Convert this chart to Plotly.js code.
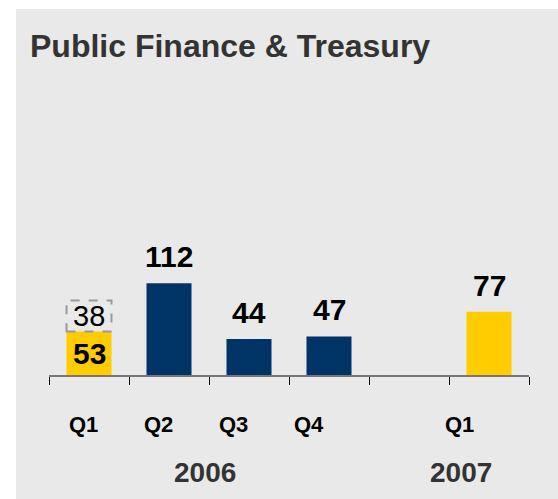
<!DOCTYPE html>
<html>
<head>
<meta charset="utf-8">
<script src="https://cdn.plot.ly/plotly-3.0.1.min.js"></script>
<style>
  html, body { margin: 0; padding: 0; background: #ffffff; }
  #chart { position: absolute; left: 16px; top: 9px; width: 542px; height: 490px; }
</style>
</head>
<body>
<div id="chart"></div>
<script>
// Data
const slots = ['Q1 2006', 'Q2 2006', 'Q3 2006', 'Q4 2006', 'gap', 'Q1 2007'];
const quarterLabels = ['Q1', 'Q2', 'Q3', 'Q4', '', 'Q1'];
const yearLabels = ['2006', '2007'];
const dealSlots = ['Q1 2006', 'Q2 2006', 'Q3 2006', 'Q4 2006', 'Q1 2007'];
const dealValues = [53, 112, 44, 47, 77];
const dealColors = ['#FFCC00', '#003366', '#003366', '#003366', '#FFCC00'];
const extraSlot = 'Q1 2006';
const extraValue = 38;

const gray = '#e9e9e9';
const barWidth = 0.5625;
const font = 'Liberation Sans, Arial, sans-serif';

const bars = {
  type: 'bar',
  x: dealSlots,
  y: dealValues,
  width: barWidth,
  marker: { color: dealColors, line: { width: 0 } },
  hoverinfo: 'skip'
};

// dashed "extra" segment stacked on Q1 2006 (outline drawn as a shape below)
const extraBar = {
  type: 'bar',
  x: [extraSlot],
  y: [extraValue],
  base: [dealValues[0]],
  width: barWidth,
  marker: { color: 'rgba(0,0,0,0)' },
  hoverinfo: 'skip'
};

const annotations = [];
// value labels above bars (the first one sits inside its bar)
dealSlots.forEach((s, i) => {
  if (i === 0) {
    annotations.push({
      x: s, y: dealValues[0] / 2, xref: 'x', yref: 'y',
      text: '<b>' + dealValues[0] + '</b>', showarrow: false, yanchor: 'middle',
      font: { family: font, size: 30, color: '#000' }
    });
    return;
  }
  annotations.push({
    x: s, y: dealValues[i], xref: 'x', yref: 'y',
    text: '<b>' + dealValues[i] + '</b>', showarrow: false,
    yanchor: 'bottom', yshift: 8,
    font: { family: font, size: 30, color: '#000' }
  });
});
annotations.push({
  x: extraSlot, y: dealValues[0] + extraValue / 2, xref: 'x', yref: 'y',
  text: String(extraValue), showarrow: false, yanchor: 'middle',
  font: { family: font, size: 29, color: '#000' }
});
// quarter labels under the axis
quarterLabels.forEach((q, i) => {
  if (!q) return;
  annotations.push({
    x: i * 0.94 - 0.07, y: -0.4065, xref: 'x', yref: 'paper',
    text: '<b>' + q + '</b>', showarrow: false, yanchor: 'middle',
    font: { family: font, size: 22, color: '#000' }
  });
});
// year labels
const yearPos = [1.45, 4.65];
yearLabels.forEach((y, i) => {
  annotations.push({
    x: yearPos[i], y: -0.79, xref: 'x', yref: 'paper',
    text: '<b>' + y + '</b>', showarrow: false, yanchor: 'middle',
    font: { family: font, size: 28, color: '#333' }
  });
});

const layout = {
  width: 542,
  height: 490,
  margin: { l: 33, r: 29, t: 243, b: 124 },
  paper_bgcolor: gray,
  plot_bgcolor: gray,
  showlegend: false,
  barmode: 'overlay',
  title: {
    text: '<b>Public Finance &amp; Treasury</b>',
    x: 14 / 542, xanchor: 'left', xref: 'container',
    y: 1 - 37 / 490, yanchor: 'middle', yref: 'container',
    font: { family: font, size: 32, color: '#333' }
  },
  xaxis: {
    type: 'category',
    categoryorder: 'array',
    categoryarray: slots,
    range: [-0.5, 5.5],
    showticklabels: false,
    showgrid: false,
    zeroline: false,
    showline: true,
    linecolor: '#777',
    linewidth: 2,
    ticks: 'outside',
    tickson: 'boundaries',
    ticklen: 8,
    tickwidth: 1,
    tickcolor: '#000',
    fixedrange: true
  },
  yaxis: {
    range: [0, 150],
    visible: false,
    fixedrange: true
  },
  shapes: [{
    type: 'rect', xref: 'x', yref: 'y',
    x0: -barWidth / 2, x1: barWidth / 2,
    y0: dealValues[0], y1: dealValues[0] + extraValue,
    line: { color: '#999', width: 2, dash: 'dash' },
    fillcolor: 'rgba(0,0,0,0)'
  }],
  annotations: annotations
};

Plotly.newPlot('chart', [bars, extraBar], layout, { staticPlot: true, responsive: false });
</script>
</body>
</html>
